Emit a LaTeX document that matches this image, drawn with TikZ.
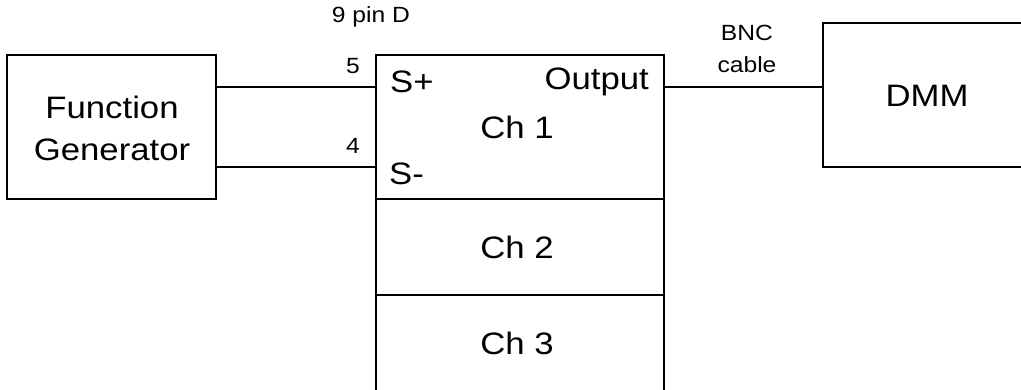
\documentclass[tikz,border=0pt]{standalone}
\usepackage{fontspec}
\setmainfont{Liberation Sans}[FakeStretch=1.12]
\begin{document}
\begin{tikzpicture}[x=1pt,y=-1pt,
  box/.style={draw=black,line width=1.4pt,rectangle,inner sep=0pt},
  wire/.style={draw=black,line width=1.4pt},
  big/.style={font=\fontsize{31}{42}\selectfont,inner sep=0pt},
  small/.style={font=\fontsize{22}{32}\selectfont,inner sep=0pt}]
\useasboundingbox (0,0) rectangle (1021,390);
\clip (0,0) rectangle (1021,390);
% boxes
\node[box,minimum width=209pt,minimum height=144pt] (fg) at (111.5,127) {};
\node[big,align=center] (fgtext) at (112,128) {Function\\Generator};
\node[box,minimum width=288pt,minimum height=144pt] (ch1) at (520,127) {};
\node[box,minimum width=288pt,minimum height=96pt] (ch2) at (520,247) {};
\node[box,minimum width=288pt,minimum height=110pt] (ch3) at (520,350) {};
\node[box,minimum width=210pt,minimum height=144pt] (dmm) at (928,95) {};
% texts in boxes
\node[big,anchor=west] (splus) at (390,82) {S+};
\node[big,anchor=west] (sminus) at (389,174) {S-};
\node[big,anchor=east] (out) at (649,82) {Output};
\node[big] (c1) at (517,127) {Ch 1};
\node[big] (c2) at (517,247) {Ch 2};
\node[big] (c3) at (517,343) {Ch 3};
\node[big] (dmmtext) at (927,96) {DMM};
% wire levels
\coordinate (y5) at (0,87);
\coordinate (y4) at (0,167);
% wires
\draw[wire] (fg.east |- y5) -- (ch1.west |- y5);
\draw[wire] (fg.east |- y4) -- (ch1.west |- y4);
\draw[wire] (ch1.east |- y5) -- (dmm.west |- y5);
% labels
\node[small] (pinD) at (371,17) {9 pin D};
\node[small] (p5) at (353,66) {5};
\node[small] (p4) at (353,146) {4};
\node[small,align=center] (bnc) at (747,49) {BNC\\cable};
\end{tikzpicture}
\end{document}
